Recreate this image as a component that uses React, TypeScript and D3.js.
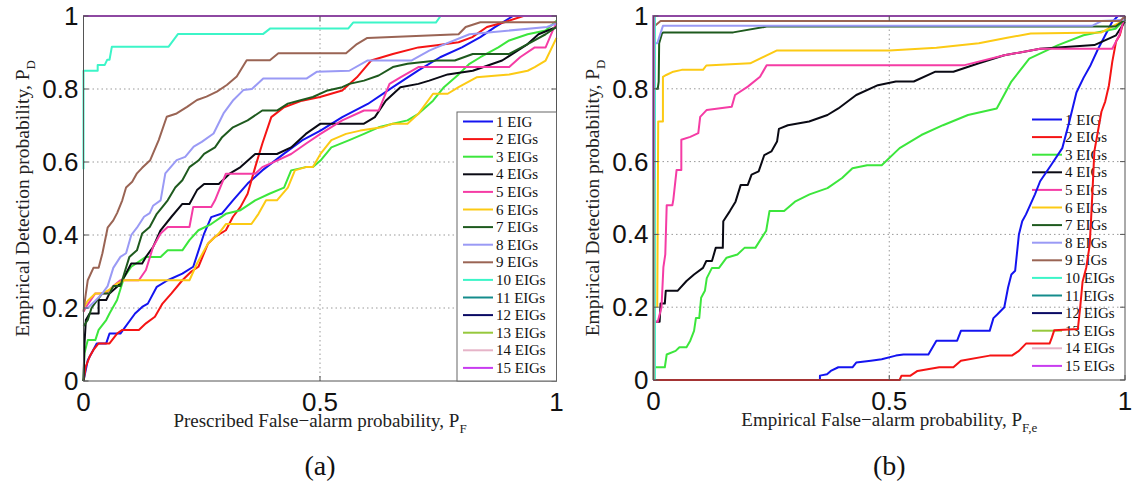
import React from "react";
import * as d3 from "d3";

type Pt = [number, number];

const LABELS = ["1 EIG", "2 EIGs", "3 EIGs", "4 EIGs", "5 EIGs", "6 EIGs", "7 EIGs", "8 EIGs", "9 EIGs", "10 EIGs", "11 EIGs", "12 EIGs", "13 EIGs", "14 EIGs", "15 EIGs"];
const COLORS = ["#1414f0", "#f51414", "#3ce63c", "#0a0a14", "#f53ca5", "#fcca14", "#1e5a1e", "#9a9af5", "#9a6454", "#3cf5c8", "#148c8c", "#0a0a64", "#96c83c", "#e6b4c8", "#c83cf0"];
const X_TICKS = [0, 0.5, 1];
const Y_TICKS = [0, 0.2, 0.4, 0.6, 0.8, 1];
const X_TICK_TEXT = ["0", "0.5", "1"];
const Y_TICK_TEXT = ["0", "0.2", "0.4", "0.6", "0.8", "1"];

// ---------- Panel (a): Prescribed P_F vs empirical P_D ----------
const A1: Pt[] = [[0,0],[0.009,0.057],[0.028,0.103],[0.048,0.103],[0.055,0.13],[0.078,0.13],[0.109,0.185],[0.124,0.203],[0.136,0.212],[0.155,0.258],[0.178,0.276],[0.209,0.294],[0.232,0.313],[0.255,0.404],[0.27,0.449],[0.293,0.459],[0.316,0.495],[0.347,0.541],[0.378,0.577],[0.424,0.623],[0.462,0.659],[0.501,0.686],[0.547,0.723],[0.601,0.759],[0.654,0.805],[0.708,0.851],[0.754,0.887],[0.8,0.914],[0.839,0.942],[0.869,0.969],[0.908,1],[1,1]];
const A2: Pt[] = [[0,0],[0.005,0.04],[0.013,0.067],[0.021,0.085],[0.032,0.103],[0.055,0.103],[0.071,0.13],[0.082,0.14],[0.117,0.14],[0.132,0.158],[0.151,0.176],[0.167,0.212],[0.186,0.24],[0.209,0.276],[0.228,0.3],[0.243,0.313],[0.263,0.376],[0.278,0.395],[0.301,0.413],[0.316,0.45],[0.332,0.477],[0.347,0.513],[0.363,0.586],[0.378,0.65],[0.397,0.723],[0.424,0.75],[0.462,0.768],[0.5,0.778],[0.547,0.796],[0.578,0.832],[0.608,0.878],[0.654,0.896],[0.708,0.914],[0.747,0.92],[0.793,0.928],[0.822,0.942],[0.853,0.97],[0.89,0.983],[0.93,1],[1,1]];
const A3: Pt[] = [[0,0],[0.002,0.076],[0.009,0.112],[0.025,0.112],[0.032,0.14],[0.048,0.167],[0.055,0.185],[0.071,0.222],[0.086,0.285],[0.101,0.313],[0.132,0.34],[0.163,0.34],[0.178,0.358],[0.209,0.358],[0.224,0.386],[0.243,0.413],[0.27,0.43],[0.301,0.458],[0.332,0.468],[0.363,0.495],[0.393,0.513],[0.424,0.53],[0.439,0.577],[0.47,0.586],[0.485,0.586],[0.501,0.604],[0.524,0.64],[0.562,0.66],[0.593,0.677],[0.624,0.695],[0.654,0.705],[0.685,0.714],[0.708,0.732],[0.739,0.768],[0.762,0.805],[0.793,0.84],[0.816,0.869],[0.839,0.887],[0.877,0.914],[0.9,0.933],[0.939,0.95],[0.977,0.96],[1,0.987]];
const A4: Pt[] = [[0,0],[0.002,0.1],[0.005,0.167],[0.013,0.185],[0.032,0.185],[0.032,0.222],[0.048,0.222],[0.055,0.24],[0.071,0.258],[0.086,0.285],[0.101,0.322],[0.124,0.322],[0.132,0.34],[0.147,0.367],[0.163,0.413],[0.186,0.45],[0.209,0.485],[0.224,0.485],[0.24,0.523],[0.255,0.54],[0.286,0.54],[0.309,0.568],[0.332,0.586],[0.363,0.622],[0.409,0.622],[0.439,0.64],[0.47,0.677],[0.501,0.705],[0.593,0.705],[0.616,0.723],[0.639,0.768],[0.67,0.805],[0.708,0.814],[0.731,0.823],[0.77,0.84],[0.823,0.85],[0.885,0.878],[0.939,0.923],[0.962,0.95],[1,0.97]];
const A5: Pt[] = [[0,0.19],[0.009,0.21],[0.025,0.24],[0.048,0.24],[0.063,0.26],[0.078,0.276],[0.117,0.276],[0.132,0.304],[0.147,0.367],[0.163,0.404],[0.178,0.422],[0.224,0.422],[0.232,0.477],[0.27,0.477],[0.278,0.495],[0.301,0.568],[0.363,0.568],[0.378,0.586],[0.409,0.604],[0.439,0.622],[0.47,0.65],[0.501,0.677],[0.547,0.714],[0.593,0.741],[0.624,0.741],[0.647,0.814],[0.67,0.832],[0.708,0.86],[0.9,0.86],[0.923,0.887],[0.954,0.914],[0.977,0.914],[0.992,0.96],[1,0.98]];
const A6: Pt[] = [[0,0.2],[0.009,0.22],[0.025,0.24],[0.04,0.24],[0.055,0.25],[0.071,0.267],[0.086,0.276],[0.224,0.276],[0.24,0.322],[0.263,0.376],[0.286,0.404],[0.301,0.43],[0.355,0.43],[0.37,0.458],[0.386,0.495],[0.409,0.495],[0.432,0.53],[0.447,0.577],[0.47,0.586],[0.485,0.586],[0.501,0.622],[0.524,0.66],[0.555,0.677],[0.585,0.686],[0.631,0.695],[0.654,0.705],[0.685,0.705],[0.708,0.732],[0.739,0.787],[0.77,0.787],[0.793,0.805],[0.831,0.832],[0.9,0.84],[0.939,0.85],[0.954,0.86],[0.977,0.878],[1,0.94]];
const A7: Pt[] = [[0,0.15],[0.009,0.167],[0.017,0.2],[0.028,0.22],[0.04,0.24],[0.055,0.24],[0.063,0.26],[0.078,0.26],[0.086,0.294],[0.097,0.34],[0.113,0.358],[0.124,0.404],[0.14,0.422],[0.155,0.458],[0.167,0.477],[0.178,0.495],[0.194,0.53],[0.209,0.55],[0.224,0.586],[0.243,0.604],[0.255,0.622],[0.278,0.64],[0.293,0.668],[0.316,0.695],[0.347,0.714],[0.378,0.741],[0.409,0.741],[0.432,0.76],[0.455,0.768],[0.485,0.778],[0.516,0.796],[0.547,0.805],[0.562,0.814],[0.593,0.823],[0.624,0.837],[0.654,0.86],[0.685,0.869],[0.747,0.878],[0.785,0.878],[0.823,0.896],[0.9,0.896],[0.939,0.923],[0.977,0.95],[1,0.97]];
const A8: Pt[] = [[0,0.2],[0.009,0.2],[0.025,0.22],[0.04,0.24],[0.051,0.26],[0.063,0.31],[0.078,0.34],[0.09,0.35],[0.101,0.4],[0.113,0.42],[0.128,0.45],[0.14,0.46],[0.147,0.48],[0.163,0.495],[0.173,0.569],[0.197,0.605],[0.215,0.614],[0.233,0.642],[0.25,0.655],[0.275,0.678],[0.296,0.733],[0.317,0.77],[0.338,0.797],[0.356,0.8],[0.38,0.829],[0.472,0.829],[0.493,0.847],[0.562,0.85],[0.6,0.878],[0.693,0.878],[0.731,0.905],[0.747,0.914],[0.816,0.95],[0.98,0.97],[1,0.98]];
const A9: Pt[] = [[0,0.19],[0.005,0.24],[0.009,0.276],[0.021,0.31],[0.032,0.31],[0.04,0.35],[0.051,0.42],[0.063,0.44],[0.071,0.46],[0.082,0.495],[0.09,0.53],[0.103,0.546],[0.113,0.569],[0.124,0.584],[0.141,0.605],[0.159,0.66],[0.176,0.724],[0.197,0.733],[0.219,0.751],[0.24,0.77],[0.26,0.779],[0.282,0.793],[0.303,0.811],[0.324,0.834],[0.345,0.879],[0.394,0.879],[0.412,0.898],[0.555,0.898],[0.578,0.923],[0.6,0.94],[0.793,0.95],[0.808,0.97],[0.839,0.983],[1,0.983]];
const A10: Pt[] = [[0,0.58],[0,0.85],[0.03,0.85],[0.03,0.866],[0.045,0.866],[0.05,0.88],[0.055,0.88],[0.06,0.916],[0.18,0.916],[0.2,0.951],[0.38,0.951],[0.395,0.966],[0.56,0.966],[0.57,0.982],[0.745,0.982],[0.755,1],[1,1]];
const A11: Pt[] = [[0,1],[1,1]];
const A12: Pt[] = [[0,1],[1,1]];
const A13: Pt[] = [[0,1],[1,1]];
const A14: Pt[] = [[0,1],[1,1]];
const A15: Pt[] = [[0,1],[1,1]];

// ---------- Panel (b): empirical P_F,e vs empirical P_D ----------
const B1: Pt[] = [[0,0],[0.353,0],[0.353,0.012],[0.368,0.016],[0.376,0.025],[0.392,0.035],[0.422,0.035],[0.43,0.048],[0.461,0.053],[0.484,0.057],[0.514,0.067],[0.53,0.07],[0.583,0.07],[0.6,0.108],[0.644,0.108],[0.652,0.135],[0.713,0.135],[0.721,0.17],[0.729,0.18],[0.744,0.2],[0.752,0.254],[0.759,0.29],[0.767,0.3],[0.775,0.4],[0.782,0.436],[0.79,0.455],[0.809,0.51],[0.82,0.546],[0.843,0.59],[0.867,0.637],[0.882,0.71],[0.897,0.79],[0.912,0.83],[0.927,0.865],[0.943,0.91],[0.958,0.947],[0.973,0.984],[0.985,1],[1,1]];
const B2: Pt[] = [[0,0],[0.522,0],[0.526,0.012],[0.545,0.012],[0.56,0.025],[0.606,0.035],[0.636,0.035],[0.652,0.053],[0.713,0.067],[0.76,0.067],[0.775,0.08],[0.79,0.1],[0.84,0.1],[0.845,0.117],[0.85,0.137],[0.9,0.14],[0.905,0.2],[0.91,0.27],[0.918,0.31],[0.925,0.37],[0.928,0.44],[0.931,0.518],[0.935,0.628],[0.95,0.737],[0.958,0.765],[0.966,0.81],[0.973,0.874],[0.981,0.93],[0.989,0.947],[1,1]];
const B3: Pt[] = [[0,0.035],[0.024,0.035],[0.028,0.07],[0.047,0.08],[0.055,0.09],[0.07,0.09],[0.078,0.108],[0.086,0.135],[0.09,0.17],[0.097,0.17],[0.101,0.226],[0.109,0.245],[0.113,0.28],[0.124,0.308],[0.139,0.308],[0.155,0.336],[0.178,0.345],[0.193,0.363],[0.216,0.363],[0.239,0.41],[0.246,0.464],[0.277,0.464],[0.3,0.49],[0.331,0.51],[0.369,0.527],[0.4,0.555],[0.422,0.582],[0.453,0.59],[0.484,0.59],[0.522,0.637],[0.568,0.673],[0.614,0.7],[0.667,0.728],[0.728,0.746],[0.759,0.82],[0.797,0.883],[0.858,0.92],[0.912,0.947],[0.98,0.965],[1,0.99]];
const B4: Pt[] = [[0,0.16],[0.013,0.16],[0.015,0.21],[0.024,0.21],[0.026,0.245],[0.051,0.245],[0.07,0.272],[0.086,0.29],[0.105,0.308],[0.112,0.327],[0.124,0.327],[0.132,0.363],[0.147,0.363],[0.148,0.436],[0.162,0.464],[0.174,0.49],[0.185,0.536],[0.2,0.536],[0.208,0.564],[0.223,0.573],[0.235,0.618],[0.25,0.628],[0.262,0.655],[0.266,0.69],[0.285,0.7],[0.33,0.71],[0.369,0.728],[0.392,0.746],[0.43,0.783],[0.476,0.81],[0.514,0.82],[0.552,0.82],[0.598,0.847],[0.636,0.847],[0.69,0.87],[0.744,0.892],[0.82,0.91],[0.935,0.92],[0.981,0.947],[1,0.985]];
const B5: Pt[] = [[0,0.16],[0.009,0.16],[0.017,0.2],[0.021,0.31],[0.025,0.345],[0.028,0.48],[0.04,0.48],[0.042,0.495],[0.049,0.577],[0.059,0.577],[0.059,0.66],[0.078,0.668],[0.095,0.678],[0.099,0.723],[0.113,0.742],[0.166,0.751],[0.173,0.783],[0.2,0.806],[0.226,0.833],[0.24,0.865],[0.66,0.865],[0.744,0.892],[0.82,0.91],[0.973,0.91],[0.988,0.947],[1,1]];
const B6: Pt[] = [[0.008,0.2],[0.01,0.71],[0.02,0.71],[0.02,0.833],[0.027,0.838],[0.042,0.847],[0.06,0.852],[0.105,0.852],[0.112,0.864],[0.205,0.87],[0.261,0.905],[0.5,0.905],[0.6,0.913],[0.69,0.925],[0.75,0.94],[0.8,0.952],[0.95,0.955],[1,0.99]];
const B7: Pt[] = [[0,0.8],[0.009,0.8],[0.011,0.82],[0.012,0.925],[0.018,0.952],[0.021,0.955],[0.169,0.955],[0.24,0.971],[0.98,0.971],[1,0.99]];
const B8: Pt[] = [[0,0.925],[0.008,0.925],[0.02,0.973],[0.93,0.973],[0.95,0.986],[1,0.99]];
const B9: Pt[] = [[0,0.97],[0.015,0.986],[0.99,0.986],[1,1]];
const B10: Pt[] = [[0.003,0],[0.003,1],[1,1]];
const B11: Pt[] = [[0,0],[0,1],[1,1]];
const B12: Pt[] = [[0,0],[0,1],[1,1]];
const B13: Pt[] = [[0,0],[0,1],[1,1]];
const B14: Pt[] = [[0,0],[0,1],[1,1]];
const B15: Pt[] = [[0,0.55],[0,1],[1,1]];

const SERIES_A = [A1, A2, A3, A4, A5, A6, A7, A8, A9, A10, A11, A12, A13, A14, A15];
const SERIES_B = [B1, B2, B3, B4, B5, B6, B7, B8, B9, B10, B11, B12, B13, B14, B15];

const SERIF = "'Liberation Serif', 'Times New Roman', serif";
const SANS = "'Liberation Sans', Arial, Helvetica, sans-serif";

type PanelProps = {
  left: number; right: number; top: number; bottom: number;
  series: Pt[][];
  xLabel: string; xSub: string; caption: string;
  legendLeft: number; legendTop: number; legendBoxed: boolean;
};

function Panel(p: PanelProps) {
  const x = d3.scaleLinear().domain([0, 1]).range([p.left, p.right]);
  const y = d3.scaleLinear().domain([0, 1]).range([p.bottom, p.top]);
  const line = d3.line<Pt>().x((d) => x(d[0])).y((d) => y(d[1]));
  const cx = (p.left + p.right) / 2;
  const cy = (p.top + p.bottom) / 2;
  const rowH = 17.6;
  const firstRow = p.legendTop + 9.5;
  const tick = 5;

  const legend = (
    <g>
      {p.legendBoxed && (
        <rect x={p.legendLeft} y={p.legendTop} width={p.right - p.legendLeft} height={p.bottom - p.legendTop} fill="#fff" stroke="#666" strokeWidth={1} />
      )}
      {LABELS.map((lab, i) => {
        const ry = firstRow + i * rowH;
        return (
          <g key={lab}>
            <line x1={p.legendLeft + 6} x2={p.legendLeft + 36} y1={ry} y2={ry} stroke={COLORS[i]} strokeWidth={2} />
            <text x={p.legendLeft + 39} y={ry + 5} fontFamily={SERIF} fontSize={15} fill="#111">{lab}</text>
          </g>
        );
      })}
    </g>
  );

  return (
    <g>
      {X_TICKS.filter((t) => t > 0 && t < 1).map((t) => (
        <line key={"gx" + t} x1={x(t)} x2={x(t)} y1={p.top} y2={p.bottom} stroke="#999" strokeWidth={1} strokeDasharray="1.5,3" />
      ))}
      {Y_TICKS.filter((t) => t > 0 && t < 1).map((t) => (
        <line key={"gy" + t} x1={p.left} x2={p.right} y1={y(t)} y2={y(t)} stroke="#999" strokeWidth={1} strokeDasharray="1.5,3" />
      ))}
      {!p.legendBoxed && legend}
      {p.series.map((s, i) => (
        <path key={"s" + i} d={line(s) || ""} fill="none" stroke={COLORS[i]} strokeWidth={2} strokeLinejoin="round" />
      ))}
      <rect x={p.left} y={p.top} width={p.right - p.left} height={p.bottom - p.top} fill="none" stroke="#555" strokeWidth={1} />
      {X_TICKS.map((t) => (
        <g key={"tx" + t}>
          <line x1={x(t)} x2={x(t)} y1={p.bottom} y2={p.bottom - tick} stroke="#555" />
          <line x1={x(t)} x2={x(t)} y1={p.top} y2={p.top + tick} stroke="#555" />
        </g>
      ))}
      {Y_TICKS.map((t) => (
        <g key={"ty" + t}>
          <line x1={p.left} x2={p.left + tick} y1={y(t)} y2={y(t)} stroke="#555" />
          <line x1={p.right} x2={p.right - tick} y1={y(t)} y2={y(t)} stroke="#555" />
        </g>
      ))}
      {p.legendBoxed && legend}
      {X_TICKS.map((t, i) => (
        <text key={"lx" + t} x={x(t)} y={p.bottom + 30} textAnchor="middle" fontFamily={SANS} fontSize={26} fill="#111">{X_TICK_TEXT[i]}</text>
      ))}
      {Y_TICKS.map((t, i) => (
        <text key={"ly" + t} x={p.left - 5} y={y(t) + 9} textAnchor="end" fontFamily={SANS} fontSize={26} fill="#111">{Y_TICK_TEXT[i]}</text>
      ))}
      <text x={cx} y={p.bottom + 46} textAnchor="middle" fontFamily={SERIF} fontSize={19} fill="#222">
        {p.xLabel}
        <tspan fontSize={13} dy={6}>{p.xSub}</tspan>
      </text>
      <text transform={`translate(${p.left - 55},${cy}) rotate(-90)`} textAnchor="middle" fontFamily={SERIF} fontSize={19.5} fill="#222">
        Empirical Detection probability, P
        <tspan fontSize={13} dy={6}>D</tspan>
      </text>
      <text x={cx} y={475} textAnchor="middle" fontFamily={SERIF} fontSize={28} fill="#111">{p.caption}</text>
    </g>
  );
}

export default function App() {
  return (
    <svg width={1136} height={486} style={{ position: "absolute", left: 0, top: 0, background: "#fff" }}>
      <rect x={0} y={0} width={1136} height={486} fill="#fff" />
      <Panel left={83.5} right={556.5} top={16} bottom={381} series={SERIES_A}
        xLabel="Prescribed False−alarm probability, P" xSub="F" caption="(a)"
        legendLeft={457} legendTop={112} legendBoxed={true} />
      <Panel left={653.5} right={1125} top={16} bottom={380} series={SERIES_B}
        xLabel="Empirical False−alarm probability, P" xSub="F,e" caption="(b)"
        legendLeft={1026} legendTop={110} legendBoxed={false} />
    </svg>
  );
}
